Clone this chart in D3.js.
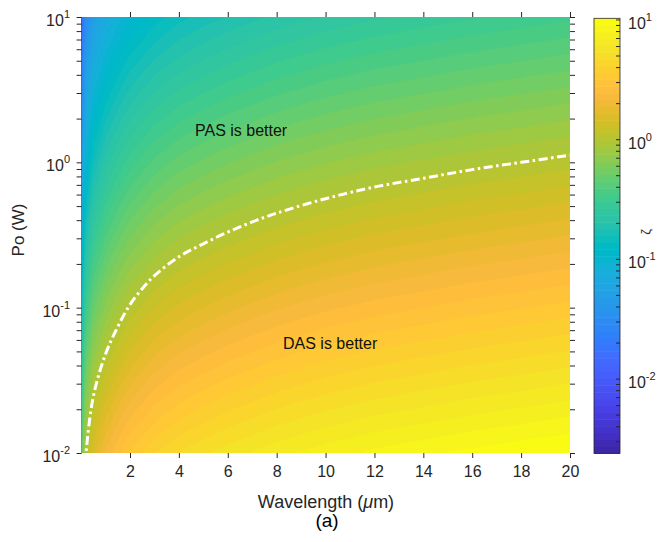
<!DOCTYPE html>
<html>
<head>
<meta charset="utf-8">
<script src="https://cdn.jsdelivr.net/npm/d3@7"></script>
<style>
body { margin: 0; background: #fff; }
text { font-family: "Liberation Sans", Arial, sans-serif; fill: #262626; }
</style>
</head>
<body>
<svg width="657" height="542"></svg>
<script>
// columns of the map: wavelength (um)
var wavelengths = [0.02, 0.05, 0.1, 0.2, 0.5, 1, 1.5, 2, 3, 4, 5, 6, 8, 10, 12, 14, 16, 18, 20];
// rows of the map: log10 of Po (W)
var powerLog = [-2, -1.75, -1.5, -1.25, -1, -0.75, -0.5, -0.25, 0, 0.25, 0.5, 0.75, 1];
// log10(zeta), one row per powerLog entry
var zetaLog = [
  [-0.5, -0.3, -0.15, 0.0, 0.195, 0.34, 0.435, 0.51, 0.61, 0.675, 0.72, 0.76, 0.825, 0.875, 0.915, 0.945, 0.975, 1.0, 1.025],
  [-0.625, -0.425, -0.275, -0.125, 0.07, 0.215, 0.31, 0.385, 0.485, 0.55, 0.595, 0.635, 0.7, 0.75, 0.79, 0.82, 0.85, 0.875, 0.9],
  [-0.75, -0.55, -0.4, -0.25, -0.055, 0.09, 0.185, 0.26, 0.36, 0.425, 0.47, 0.51, 0.575, 0.625, 0.665, 0.695, 0.725, 0.75, 0.775],
  [-0.875, -0.675, -0.525, -0.375, -0.18, -0.035, 0.06, 0.135, 0.235, 0.3, 0.345, 0.385, 0.45, 0.5, 0.54, 0.57, 0.6, 0.625, 0.65],
  [-1.0, -0.8, -0.65, -0.5, -0.305, -0.16, -0.065, 0.01, 0.11, 0.175, 0.22, 0.26, 0.325, 0.375, 0.415, 0.445, 0.475, 0.5, 0.525],
  [-1.125, -0.925, -0.775, -0.625, -0.43, -0.285, -0.19, -0.115, -0.015, 0.05, 0.095, 0.135, 0.2, 0.25, 0.29, 0.32, 0.35, 0.375, 0.4],
  [-1.25, -1.05, -0.9, -0.75, -0.555, -0.41, -0.315, -0.24, -0.14, -0.075, -0.03, 0.01, 0.075, 0.125, 0.165, 0.195, 0.225, 0.25, 0.275],
  [-1.375, -1.175, -1.025, -0.875, -0.68, -0.535, -0.44, -0.365, -0.265, -0.2, -0.155, -0.115, -0.05, 0.0, 0.04, 0.07, 0.1, 0.125, 0.15],
  [-1.5, -1.3, -1.15, -1.0, -0.805, -0.66, -0.565, -0.49, -0.39, -0.325, -0.28, -0.24, -0.175, -0.125, -0.085, -0.055, -0.025, 0.0, 0.025],
  [-1.625, -1.425, -1.275, -1.125, -0.93, -0.785, -0.69, -0.615, -0.515, -0.45, -0.405, -0.365, -0.3, -0.25, -0.21, -0.18, -0.15, -0.125, -0.1],
  [-1.75, -1.55, -1.4, -1.25, -1.055, -0.91, -0.815, -0.74, -0.64, -0.575, -0.53, -0.49, -0.425, -0.375, -0.335, -0.305, -0.275, -0.25, -0.225],
  [-1.875, -1.675, -1.525, -1.375, -1.18, -1.035, -0.94, -0.865, -0.765, -0.7, -0.655, -0.615, -0.55, -0.5, -0.46, -0.43, -0.4, -0.375, -0.35],
  [-2.0, -1.8, -1.65, -1.5, -1.305, -1.16, -1.065, -0.99, -0.89, -0.825, -0.78, -0.74, -0.675, -0.625, -0.585, -0.555, -0.525, -0.5, -0.475]
];
// dash-dot boundary (zeta = 1)
var boundaryWavelength = [0.17, 0.2, 0.5, 1, 1.5, 2, 2.5, 3, 4, 5, 6, 7, 8, 10, 12, 14, 16, 18, 20];
var boundaryPower = [0.0085, 0.01, 0.0245, 0.048, 0.074, 0.105, 0.135, 0.166, 0.224, 0.275, 0.331, 0.389, 0.447, 0.562, 0.676, 0.776, 0.891, 1.0, 1.12];

var xTicks = [2, 4, 6, 8, 10, 12, 14, 16, 18, 20];
var yDecades = [-2, -1, 0, 1];
var cbDecades = [-2, -1, 0, 1];
var zetaRange = [-2.62, 1.014];

// parula colormap, 64 entries
var parula = [
[0.2422,0.1504,0.6603],[0.2504,0.1650,0.7076],[0.2578,0.1818,0.7511],[0.2647,0.1978,0.7952],
[0.2706,0.2147,0.8364],[0.2751,0.2342,0.8710],[0.2783,0.2559,0.8991],[0.2803,0.2782,0.9221],
[0.2813,0.3006,0.9414],[0.2810,0.3228,0.9579],[0.2795,0.3447,0.9717],[0.2760,0.3667,0.9829],
[0.2699,0.3892,0.9906],[0.2602,0.4123,0.9952],[0.2440,0.4358,0.9988],[0.2206,0.4603,0.9973],
[0.1963,0.4847,0.9892],[0.1834,0.5074,0.9798],[0.1786,0.5289,0.9682],[0.1764,0.5499,0.9520],
[0.1687,0.5703,0.9359],[0.1540,0.5902,0.9218],[0.1460,0.6091,0.9079],[0.1380,0.6276,0.8973],
[0.1248,0.6459,0.8883],[0.1113,0.6635,0.8763],[0.0952,0.6798,0.8598],[0.0689,0.6948,0.8394],
[0.0297,0.7082,0.8163],[0.0036,0.7203,0.7917],[0.0067,0.7312,0.7660],[0.0433,0.7411,0.7394],
[0.0964,0.7500,0.7120],[0.1408,0.7584,0.6842],[0.1717,0.7670,0.6554],[0.1938,0.7758,0.6251],
[0.2161,0.7843,0.5923],[0.2470,0.7918,0.5567],[0.2906,0.7973,0.5188],[0.3406,0.8008,0.4789],
[0.3909,0.8029,0.4354],[0.4456,0.8024,0.3909],[0.5044,0.7993,0.3480],[0.5616,0.7942,0.3045],
[0.6174,0.7876,0.2612],[0.6720,0.7793,0.2227],[0.7242,0.7698,0.1910],[0.7738,0.7598,0.1646],
[0.8203,0.7498,0.1535],[0.8634,0.7406,0.1596],[0.9035,0.7330,0.1774],[0.9393,0.7288,0.2100],
[0.9728,0.7298,0.2394],[0.9956,0.7434,0.2371],[0.9970,0.7659,0.2199],[0.9952,0.7893,0.2028],
[0.9892,0.8136,0.1885],[0.9786,0.8386,0.1766],[0.9676,0.8639,0.1643],[0.9610,0.8890,0.1537],
[0.9597,0.9135,0.1423],[0.9628,0.9373,0.1265],[0.9691,0.9606,0.1064],[0.9769,0.9839,0.0805]
].map(function (c) { return d3.rgb(c[0] * 255, c[1] * 255, c[2] * 255).toString(); });

var svg = d3.select("svg");
var plotL = 81.6, plotR = 570, plotT = 17, plotB = 453;

var x = d3.scaleLinear().domain([0.02, 20]).range([plotL, plotR]);
var y = d3.scaleLog().domain([0.01, 10]).range([plotB, plotT]);
var color = d3.scaleQuantize().domain(zetaRange).range(parula);

svg.append("clipPath").attr("id", "plot")
  .append("rect").attr("x", plotL).attr("y", plotT).attr("width", plotR - plotL).attr("height", plotB - plotT);

// filled contours
var n = wavelengths.length, m = powerLog.length;
var flat = [];
zetaLog.forEach(function (row) { flat = flat.concat(row); });
var step = (zetaRange[1] - zetaRange[0]) / parula.length;
var levels = d3.range(parula.length).map(function (i) { return zetaRange[0] + i * step; });
var colAt = d3.scaleLinear().domain(d3.range(n)).range(wavelengths).clamp(true);
var rowAt = d3.scaleLinear().domain(d3.range(m)).range(powerLog).clamp(true);
var proj = d3.geoTransform({
  point: function (px, py) {
    this.stream.point(x(colAt(px - 0.5)), y(Math.pow(10, rowAt(py - 0.5))));
  }
});
var contours = d3.contours().size([n, m]).thresholds(levels)(flat);

var g = svg.append("g").attr("clip-path", "url(#plot)");
g.selectAll("path.band")
  .data(contours)
  .enter().append("path")
  .attr("class", "band")
  .attr("d", d3.geoPath(proj))
  .attr("fill", function (d) { return color(d.value + step / 2); })
  .attr("stroke", function (d) { return color(d.value + step / 2); })
  .attr("stroke-width", 0.3);

// boundary line
var pts = boundaryWavelength.map(function (w, i) { return [w, boundaryPower[i]]; });
g.append("path")
  .datum(pts)
  .attr("fill", "none")
  .attr("stroke", "#fff")
  .attr("stroke-width", 3)
  .attr("stroke-dasharray", "9,3.5,2.5,3.5")
  .attr("d", d3.line()
    .x(function (d) { return x(d[0]); })
    .y(function (d) { return y(d[1]); })
    .curve(d3.curveCatmullRom));

g.append("text").attr("x", 195).attr("y", 136).attr("font-size", 16).style("fill", "#111").text("PAS is better");
g.append("text").attr("x", 283).attr("y", 349).attr("font-size", 16).style("fill", "#111").text("DAS is better");

// axes ticks (outward, no box line)
var tickCol = "#262626";
var minor = y.ticks();
var xb = svg.append("g").attr("transform", "translate(0," + plotB + ")")
  .call(d3.axisBottom(x).tickValues(xTicks).tickSize(5).tickPadding(8).tickFormat(d3.format("d")));
var xt = svg.append("g").attr("transform", "translate(0," + plotT + ")")
  .call(d3.axisTop(x).tickValues(xTicks).tickSize(5).tickFormat(""));
var yl = svg.append("g").attr("transform", "translate(" + plotL + ",0)")
  .call(d3.axisLeft(y).tickValues(minor).tickSize(5).tickFormat(""));
var yr = svg.append("g").attr("transform", "translate(" + plotR + ",0)")
  .call(d3.axisRight(y).tickValues(minor).tickSize(5).tickFormat(""));
[xb, xt, yl, yr].forEach(function (a) {
  a.select(".domain").remove();
  a.selectAll("line").attr("stroke", tickCol);
});
xb.selectAll("text").attr("font-size", 16).style("fill", tickCol).attr("font-family", "Liberation Sans, Arial, sans-serif");

yDecades.forEach(function (e) {
  var t = svg.append("text").attr("x", 70).attr("y", y(Math.pow(10, e)) + 9)
    .attr("text-anchor", "end").attr("font-size", 16).text("10");
  t.append("tspan").attr("dy", -8).attr("font-size", 11).text(e);
});

// axis labels
var xl = svg.append("text").attr("x", 326).attr("y", 508).attr("text-anchor", "middle").attr("font-size", 18);
xl.append("tspan").text("Wavelength (");
xl.append("tspan").style("font-style", "italic").text("\u03bc");
xl.append("tspan").text("m)");
svg.append("text").attr("transform", "translate(24,230) rotate(-90)").attr("text-anchor", "middle")
  .attr("font-size", 17).text("Po (W)");
svg.append("text").attr("x", 327).attr("y", 527).attr("text-anchor", "middle")
  .attr("font-family", "Liberation Serif, Times New Roman, serif").attr("font-size", 19)
  .style("fill", "#000").text("(a)");

// colorbar
var cbLeft = 594, cbWidth = 26, cbTop = 18.3, cbBottom = 453.3;
var cb = d3.scaleLinear().domain(zetaRange).range([cbBottom, cbTop]);
svg.append("g").selectAll("rect")
  .data(parula)
  .enter().append("rect")
  .attr("x", cbLeft)
  .attr("width", cbWidth)
  .attr("y", function (d, i) { return cb(zetaRange[0] + (i + 1) * step); })
  .attr("height", function (d, i) { return cb(zetaRange[0] + i * step) - cb(zetaRange[0] + (i + 1) * step) + 0.5; })
  .attr("fill", function (d) { return d; });
svg.append("rect").attr("x", cbLeft).attr("y", cbTop).attr("width", cbWidth).attr("height", cbBottom - cbTop)
  .attr("fill", "none").attr("stroke", tickCol).attr("stroke-width", 0.8);
var cbLog = d3.scaleLog().domain([Math.pow(10, zetaRange[0]), Math.pow(10, zetaRange[1])]).range([cbBottom, cbTop]);
svg.append("g").selectAll("line")
  .data(cbLog.ticks())
  .enter().append("line")
  .attr("x1", cbLeft + cbWidth - 4).attr("x2", cbLeft + cbWidth)
  .attr("y1", function (d) { return cbLog(d); }).attr("y2", function (d) { return cbLog(d); })
  .attr("stroke", tickCol);
cbDecades.forEach(function (e) {
  var t = svg.append("text").attr("x", 628).attr("y", cbLog(Math.pow(10, e)) + 9).attr("font-size", 16).text("10");
  t.append("tspan").attr("dy", -8).attr("font-size", 11).text(e);
});
svg.append("text").attr("transform", "translate(650,232) rotate(-90)").attr("text-anchor", "middle")
  .attr("font-size", 13).text("\u03b6");
</script>
</body>
</html>
